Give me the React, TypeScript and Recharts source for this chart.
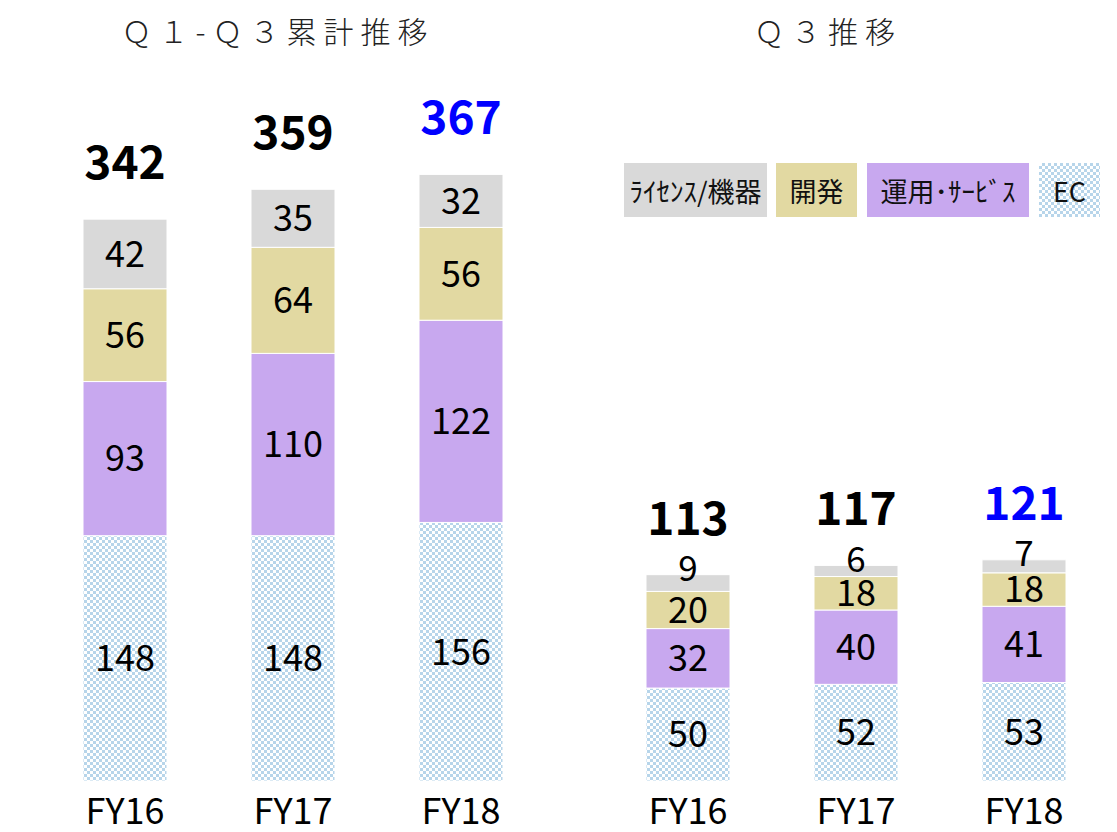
import { BarChart, Bar, XAxis, YAxis, LabelList } from "recharts";

const categories = ["FY16", "FY17", "FY18"];

// Q1-Q3 cumulative
const cumEC = [148, 148, 156];
const cumOps = [93, 110, 122];
const cumDev = [56, 64, 56];
const cumLic = [42, 35, 32];
const cumTotal = [342, 359, 367];

// Q3 only
const q3EC = [50, 52, 53];
const q3Ops = [32, 40, 41];
const q3Dev = [20, 18, 18];
const q3Lic = [9, 6, 7];
const q3Total = [113, 117, 121];

const legendItems = ["ﾗｲｾﾝｽ/機器", "開発", "運用･ｻｰﾋﾞｽ", "EC"];

const FONT = '"Noto Sans CJK JP", "Noto Sans", sans-serif';
const GREY = "#d9d9d9";
const KHAKI = "#e2d9a2";
const PURPLE = "#c8a8ef";
const EC_BLUE = "#b7d5ea";

const build = (ec: number[], ops: number[], dev: number[], lic: number[], total: number[]) =>
  categories.map((name, i) => ({ name, ec: ec[i], ops: ops[i], dev: dev[i], lic: lic[i], total: total[i] }));

const cumData = build(cumEC, cumOps, cumDev, cumLic, cumTotal);
const q3Data = build(q3EC, q3Ops, q3Dev, q3Lic, q3Total);

const checkerBg = {
  backgroundColor: "#fff",
  backgroundImage: `linear-gradient(45deg, ${EC_BLUE} 25%, transparent 25%, transparent 75%, ${EC_BLUE} 75%), linear-gradient(45deg, ${EC_BLUE} 25%, transparent 25%, transparent 75%, ${EC_BLUE} 75%)`,
  backgroundSize: "6px 6px",
  backgroundPosition: "0 0, 3px 3px",
};

// total above the stack, last year highlighted in blue
const TotalLabel = (props: any) => {
  const { x, y, width, value, index } = props;
  return (
    <text
      x={x + width / 2}
      y={y - 60}
      textAnchor="middle"
      dominantBaseline="central"
      fontSize={46}
      fontWeight={700}
      fontFamily={FONT}
      fill={index === categories.length - 1 ? "#0000ff" : "#000"}
    >
      {value}
    </text>
  );
};

// small segment value sitting just above the bar
const AboveLabel = (props: any) => {
  const { x, y, width, value } = props;
  return (
    <text x={x + width / 2} y={y - 9} textAnchor="middle" dominantBaseline="central" fontSize={35} fontFamily={FONT} fill="#000">
      {value}
    </text>
  );
};

const segLabel = { position: "center" as const, fill: "#000", fontSize: 36, fontFamily: FONT };

function Stack({ data, max, smallTop }: { data: any[]; max: number; smallTop?: boolean }) {
  return (
    <BarChart
      width={557}
      height={832}
      data={data}
      margin={{ top: 123, right: 12, bottom: 0, left: 41 }}
      barSize={84}
    >
      <defs>
        <pattern id={`chk${max}`} width={6} height={6} patternUnits="userSpaceOnUse">
          <rect width={6} height={6} fill="#fff" />
          <rect width={3} height={3} fill={EC_BLUE} />
          <rect x={3} y={3} width={3} height={3} fill={EC_BLUE} />
        </pattern>
      </defs>
      <XAxis
        dataKey="name"
        axisLine={false}
        tickLine={false}
        height={51}
        tickMargin={11}
        tick={{ fill: "#000", fontSize: 36, fontFamily: FONT }}
      />
      <YAxis hide domain={[0, max]} />
      <Bar dataKey="ec" stackId="a" fill={`url(#chk${max})`} stroke="#fff" strokeWidth={1} isAnimationActive={false}>
        <LabelList dataKey="ec" {...segLabel} />
      </Bar>
      <Bar dataKey="ops" stackId="a" fill={PURPLE} stroke="#fff" strokeWidth={1} isAnimationActive={false}>
        <LabelList dataKey="ops" {...segLabel} />
      </Bar>
      <Bar dataKey="dev" stackId="a" fill={KHAKI} stroke="#fff" strokeWidth={1} isAnimationActive={false}>
        <LabelList dataKey="dev" {...segLabel} />
      </Bar>
      <Bar dataKey="lic" stackId="a" fill={GREY} stroke="#fff" strokeWidth={1} isAnimationActive={false}>
        {smallTop ? <LabelList dataKey="lic" content={AboveLabel} /> : <LabelList dataKey="lic" {...segLabel} />}
        <LabelList dataKey="total" content={TotalLabel} />
      </Bar>
    </BarChart>
  );
}

const legendBoxes = [
  { left: 624, width: 143, bg: { background: GREY } },
  { left: 776, width: 81, bg: { background: KHAKI } },
  { left: 867, width: 162, bg: { background: PURPLE } },
  { left: 1039, width: 61, bg: checkerBg },
];

export default function App() {
  return (
    <div style={{ position: "absolute", left: 0, top: 0, width: 1117, height: 832, background: "#fff", fontFamily: FONT }}>
      <div
        style={{
          position: "absolute",
          left: 0,
          width: 556,
          top: 8,
          textAlign: "center",
          fontSize: 30,
          letterSpacing: 7,
          color: "#222",
          fontWeight: 300,
        }}
      >
        Ｑ１-Ｑ３累計推移
      </div>
      <div
        style={{
          position: "absolute",
          left: 560,
          width: 536,
          top: 8,
          textAlign: "center",
          fontSize: 30,
          letterSpacing: 7,
          color: "#222",
          fontWeight: 300,
        }}
      >
        Ｑ３推移
      </div>

      <div style={{ position: "absolute", left: 0, top: 0 }}>
        <Stack data={cumData} max={397} />
      </div>
      <div style={{ position: "absolute", left: 563, top: 0 }}>
        <Stack data={q3Data} max={354} smallTop />
      </div>

      {legendItems.map((label, i) => (
        <div
          key={label}
          style={{
            position: "absolute",
            top: 163,
            height: 54,
            left: legendBoxes[i].left,
            width: legendBoxes[i].width,
            ...legendBoxes[i].bg,
            display: "flex",
            alignItems: "center",
            justifyContent: "center",
            fontSize: 27,
            color: "#111",
          }}
        >
          {label}
        </div>
      ))}
    </div>
  );
}
